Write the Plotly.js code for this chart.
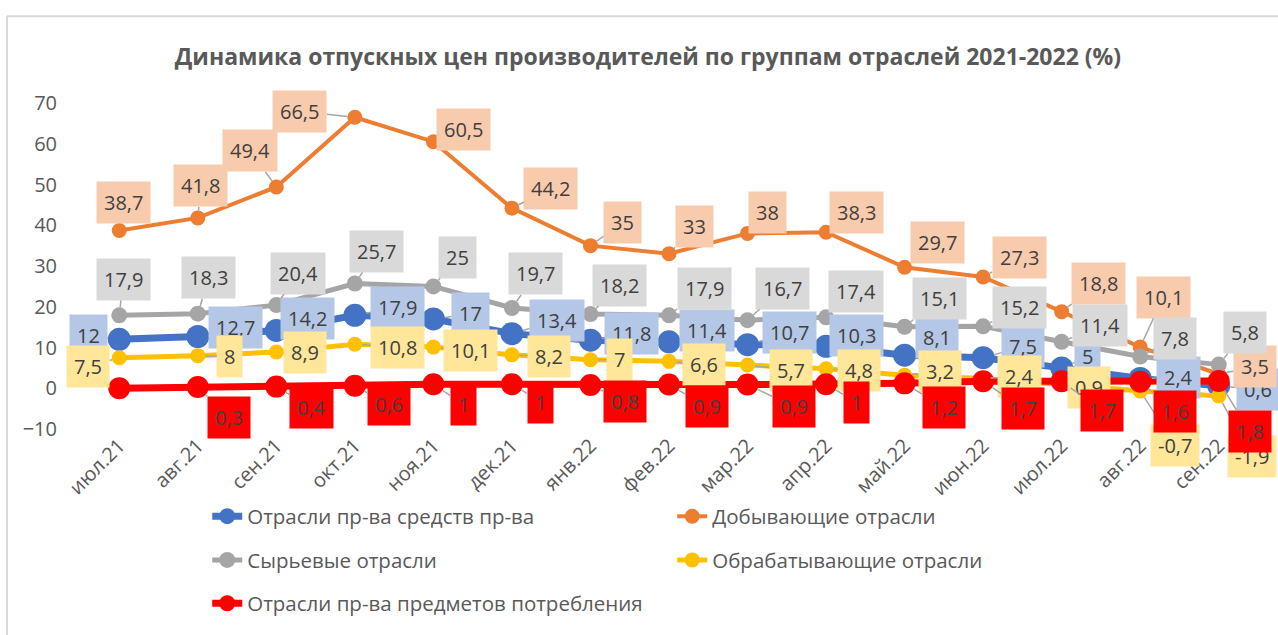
<!DOCTYPE html>
<html>
<head>
<meta charset="utf-8">
<script src="https://cdn.plot.ly/plotly-3.0.1.min.js"></script>
<style>html,body{margin:0;padding:0;background:#fff;}#chart{width:1278px;height:635px;}</style>
</head>
<body>
<div id="chart"></div>
<script>
// ---- DATA ----
const months = ['июл.21','авг.21','сен.21','окт.21','ноя.21','дек.21','янв.22','фев.22','мар.22','апр.22','май.22','июн.22','июл.22','авг.22','сен.22'];
const seriesNames = ['Отрасли пр-ва средств пр-ва','Добывающие отрасли','Сырьевые отрасли','Обрабатывающие отрасли','Отрасли пр-ва предметов потребления'];
const meansOfProduction = [12,12.7,14.2,17.9,17,13.4,11.8,11.4,10.7,10.3,8.1,7.5,5,2.4,0.6];
const mining = [38.7,41.8,49.4,66.5,60.5,44.2,35,33,38,38.3,29.7,27.3,18.8,10.1,3.5];
const rawMaterials = [17.9,18.3,20.4,25.7,25,19.7,18.2,17.9,16.7,17.4,15.1,15.2,11.4,7.8,5.8];
const manufacturing = [7.5,8,8.9,10.8,10.1,8.2,7,6.6,5.7,4.8,3.2,2.4,0.9,-0.7,-1.9];
const consumerGoods = [0,0.3,0.4,0.6,1,1,0.8,0.9,0.9,1,1.2,1.7,1.7,1.6,1.8];
const titleText = 'Динамика отпускных цен производителей по группам отраслей 2021-2022 (%)';

// ---- STYLE ----
const FONT = '"Open Sans", "Noto Sans", sans-serif';
const styles = [
  {color:'#4472C4', lw:7, ms:23, label:'#B4C7E7', legend:'legend',
   off:[[-31,-4],[38,-9],[31,-12],[43,-8],[37,-5],[45,-13],[41,-7],[38,-11],[42,-12],[30,-11],[32,-18],[40,-11],[26,-11],[38,-1],[39,4]]},
  {color:'#ED7D31', lw:4, ms:15, label:'#F8CBAD', legend:'legend',
   off:[[4,-28],[3,-32],[-26,-36],[-55,-6],[30,-12],[39,-20],[32,-23],[25,-27],[20,-21],[30,-20],[33,-25],[36,-20],[37,-28],[23,-50],[36,-7]]},
  {color:'#A5A5A5', lw:5, ms:16, label:'#D9D9D9', legend:'legend2',
   off:[[4,-36],[11,-36],[22,-32],[22,-32],[24,-29],[24,-34],[29,-29],[35,-27],[35,-32],[30,-26],[35,-28],[36,-19],[38,-16],[35,-18],[26,-32]]},
  {color:'#FFC000', lw:5, ms:15, label:'#FFE699', legend:'legend2',
   off:[[-31,9],[32,1],[29,1],[43,3],[37,3],[37,2],[29,0],[35,3],[43,5],[33,2],[35,-4],[36,-2],[27,3],[35,54],[33,61]]},
  {color:'#FF0000', lw:7, ms:22, label:'#FF0000', legend:'legend3', hide:[0],
   off:[[0,0],[31,30],[35,21],[34,19],[30,20],[29,18],[35,17],[38,22],[46,22],[30,18],[39,24],[40,27],[40,29],[35,30],[31,51]]}
];
const allValues = [meansOfProduction, mining, rawMaterials, manufacturing, consumerGoods];

const fmt = v => String(v).replace('.', ',');

const traces = allValues.map((vals, i) => ({
  type:'scatter', mode:'lines+markers', name: seriesNames[i],
  x: months, y: vals,
  line:{color:styles[i].color, width:styles[i].lw},
  marker:{color:styles[i].color, size:styles[i].ms},
  legend: styles[i].legend,
  hoverinfo:'skip'
}));

const annotations = [];
allValues.forEach((vals, i) => {
  const s = styles[i];
  vals.forEach((v, j) => {
    if (s.hide && s.hide.includes(j)) return;
    annotations.push({
      x: months[j], y: v, xref:'x', yref:'y',
      text: fmt(v), showarrow:true, arrowhead:0, arrowwidth:1.5, arrowcolor:'#A6A6A6',
      standoff: s.ms/2, ax: s.off[j][0], ay: s.off[j][1],
      bgcolor: s.label, borderpad:7,
      font:{family:FONT, size:20, color:'#404040'}
    });
  });
});

const legendBase = {orientation:'h', xanchor:'left', yanchor:'middle', x:0.108,
  font:{family:FONT, size:20.5, color:'#595959'}, entrywidth:420, entrywidthmode:'pixels',
  bgcolor:'rgba(0,0,0,0)', itemsizing:'trace'};

const layout = {
  width:1278, height:635,
  paper_bgcolor:'#ffffff', plot_bgcolor:'#ffffff',
  margin:{l:80, r:20, t:103, b:201},
  font:{family:FONT, color:'#595959'},
  title:{text:titleText, x:0.507, xanchor:'center', y:1-57/635, yanchor:'middle',
    font:{family:FONT, size:23, color:'#595959', weight:'bold'}},
  xaxis:{type:'category', range:[-0.5,14.5], showgrid:false, zeroline:false, showline:false,
    ticks:'', tickangle:-45, tickfont:{family:FONT, size:20, color:'#595959'}, fixedrange:true},
  yaxis:{range:[-10,70], dtick:10, showgrid:false, zeroline:false, showline:false,
    ticks:'', tickfont:{family:FONT, size:20, color:'#595959'}, ticklabelstandoff:22, fixedrange:true},
  showlegend:true,
  legend: Object.assign({}, legendBase, {y:-0.268}),
  legend2: Object.assign({}, legendBase, {y:-0.402}),
  legend3: Object.assign({}, legendBase, {y:-0.535}),
  annotations: annotations,
  shapes:[
    {type:'line', xref:'paper', yref:'paper', x0:(7-80)/1178, x1:1.1, y0:(434-15)/331, y1:(434-15)/331, line:{color:'#D9D9D9', width:2}},
    {type:'line', xref:'paper', yref:'paper', x0:(7-80)/1178, x1:(7-80)/1178, y0:(434-15)/331, y1:-0.7, line:{color:'#D9D9D9', width:2}}
  ]
};

Plotly.newPlot('chart', traces, layout, {displayModeBar:false, staticPlot:true});
</script>
</body>
</html>
